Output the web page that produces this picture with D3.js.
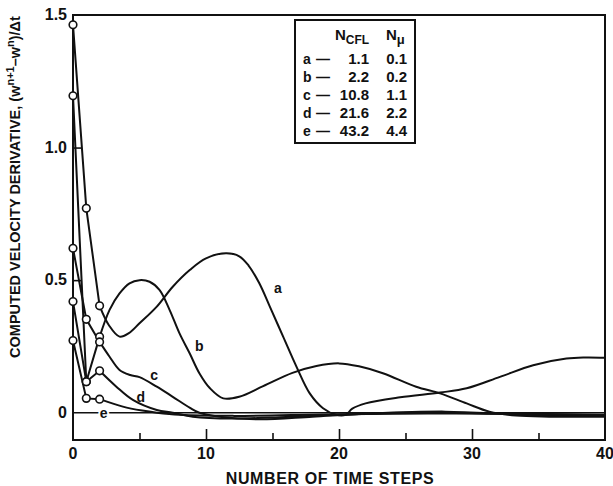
<!DOCTYPE html>
<html>
<head>
<meta charset="utf-8">
<script src="https://cdn.jsdelivr.net/npm/d3@7"></script>
<style>
  body { margin: 0; background: #fff; }
  svg text { font-family: "Liberation Sans", Arial, Helvetica, sans-serif; font-weight: bold; fill: #111; }
</style>
</head>
<body>
<svg id="chart" width="613" height="486"></svg>
<script>
// legend table
const curveNames = ["a", "b", "c", "d", "e"];
const nCflValues = ["1.1", "2.2", "10.8", "21.6", "43.2"];
const nMuValues = ["0.1", "0.2", "1.1", "2.2", "4.4"];

// first three time steps (drawn with circles, straight segments)
const stepTimes = [0, 1, 2];
const stepsA = [1.463, 0.771, 0.403];
const stepsB = [1.195, 0.117, 0.286];
const stepsC = [0.620, 0.352, 0.267];
const stepsD = [0.419, 0.117, 0.158];
const stepsE = [0.272, 0.054, 0.051];

// smooth continuation, [time step, value]
const curveA = [[2, 0.403], [2.7, 0.33], [3.5, 0.287], [4.2, 0.30], [5, 0.337], [6.3, 0.40], [7.5, 0.475],
  [8.8, 0.539], [10, 0.582], [11.5, 0.601], [12.5, 0.59], [13.2, 0.555], [14, 0.489], [14.8, 0.40],
  [15.8, 0.287], [16.8, 0.174], [17.8, 0.073], [18.8, 0.017], [19.8, -0.008], [20.5, -0.008], [21, 0.015],
  [22, 0.035], [24.6, 0.058], [27.6, 0.076], [29.6, 0.092], [32.1, 0.135], [34.6, 0.179], [37.1, 0.204],
  [38.5, 0.208], [40, 0.207]];
const curveB = [[2, 0.286], [2.75, 0.388], [3.5, 0.45], [4.25, 0.488], [5, 0.50], [5.76, 0.494], [6.5, 0.463],
  [7.26, 0.388], [8, 0.30], [8.77, 0.224], [9.5, 0.149], [10.3, 0.092], [11.3, 0.054], [12.5, 0.06],
  [14.3, 0.100], [16.5, 0.15], [18.3, 0.176], [20, 0.186], [21.5, 0.175], [23.3, 0.149], [25.8, 0.098],
  [27.6, 0.073], [29.6, 0.035], [31.3, 0.004], [33.3, -0.011], [35.8, -0.015], [40, -0.015]];
const curveC = [[2, 0.267], [2.75, 0.211], [3.5, 0.161], [4.3, 0.142], [5, 0.134], [6.3, 0.098], [7.5, 0.06],
  [8.8, 0.018], [9.5, 0.0], [11, -0.015], [14, -0.025], [18, -0.015], [22, -0.004], [28, 0.004],
  [34, -0.008], [40, -0.012]];
const curveD = [[2, 0.158], [3.26, 0.098], [4.5, 0.048], [6.3, 0.01], [7.5, 0], [9, -0.015], [12, -0.022],
  [16, -0.016], [20, -0.008], [26, 0.001], [32, -0.004], [40, -0.01]];
const curveE = [[2, 0.051], [3.75, 0.023], [5.2, 0.008], [6.3, 0.0], [8, -0.008], [12, -0.012], [20, -0.006],
  [30, -0.003], [40, -0.008]];

// axis ticks
const xTickLabels = [0, 10, 20, 30, 40];
const xMinorTicks = [5, 15, 25, 35];
const yTickLabels = [0, 0.5, 1.0, 1.5];

const svg = d3.select("#chart");
const margin = { top: 15, right: 8, bottom: 46, left: 73 };
const width = 613, height = 486;

const x = d3.scaleLinear().domain([0, 40]).range([margin.left, width - margin.right]);
const y = d3.scaleLinear().domain([-0.103, 1.5]).range([height - margin.bottom, margin.top]);

// frame
svg.append("rect")
    .attr("x", x(0)).attr("y", y(1.5))
    .attr("width", x(40) - x(0)).attr("height", y(-0.103) - y(1.5))
    .attr("fill", "none").attr("stroke", "#111").attr("stroke-width", 2);

// zero line
svg.append("line")
    .attr("x1", x(0)).attr("x2", x(40)).attr("y1", y(0)).attr("y2", y(0))
    .attr("stroke", "#111").attr("stroke-width", 1.5);

// ticks pointing in
svg.append("g").attr("transform", `translate(0,${y(-0.103)})`)
    .call(d3.axisTop(x).tickValues(xTickLabels.slice(1, -1)).tickSize(11).tickFormat(""))
    .call(g => g.select(".domain").remove())
    .selectAll("line").attr("stroke", "#111").attr("stroke-width", 1.6);
svg.append("g").attr("transform", `translate(0,${y(-0.103)})`)
    .call(d3.axisTop(x).tickValues(xMinorTicks).tickSize(7).tickFormat(""))
    .call(g => g.select(".domain").remove())
    .selectAll("line").attr("stroke", "#111").attr("stroke-width", 1.6);
svg.append("g").attr("transform", `translate(${x(0)},0)`)
    .call(d3.axisRight(y).tickValues([0.5, 1.0]).tickSize(8).tickFormat(""))
    .call(g => g.select(".domain").remove())
    .selectAll("line").attr("stroke", "#111").attr("stroke-width", 1.6);

// tick labels
svg.append("g").selectAll("text").data(xTickLabels).join("text")
    .attr("x", d => x(d)).attr("y", y(-0.103) + 19)
    .attr("text-anchor", "middle").attr("font-size", 16)
    .text(d => d);
svg.append("g").selectAll("text").data(yTickLabels).join("text")
    .attr("x", x(0) - 6).attr("y", d => y(d) + 5)
    .attr("text-anchor", "end").attr("font-size", 16)
    .text(d => d === 0 ? "0" : d.toFixed(1));

// axis titles
svg.append("text")
    .attr("x", 330).attr("y", 484)
    .attr("text-anchor", "middle").attr("font-size", 16).attr("letter-spacing", 0.6)
    .text("NUMBER OF TIME STEPS");

const yTitle = svg.append("text")
    .attr("transform", "translate(20,187) rotate(-90)")
    .attr("text-anchor", "middle").attr("font-size", 14.5);
yTitle.append("tspan").text("COMPUTED VELOCITY DERIVATIVE, (w");
yTitle.append("tspan").attr("dy", -6).attr("font-size", 11).text("n+1");
yTitle.append("tspan").attr("dy", 6).text("\u2013w");
yTitle.append("tspan").attr("dy", -6).attr("font-size", 11).text("n");
yTitle.append("tspan").attr("dy", 6).text(")/\u0394t");

// curves
const stepSets = [stepsA, stepsB, stepsC, stepsD, stepsE];
const smoothSets = [curveA, curveB, curveC, curveD, curveE];

const straight = d3.line().x(d => x(d[0])).y(d => y(d[1]));
const smooth = d3.line().x(d => x(d[0])).y(d => y(d[1])).curve(d3.curveCatmullRom.alpha(0.5));

const curves = svg.append("g").attr("fill", "none").attr("stroke", "#111").attr("stroke-width", 2);
smoothSets.forEach(pts => {
    curves.append("path").attr("d", smooth(pts));
});
stepSets.forEach(vals => {
    curves.append("path").attr("d", straight(vals.map((v, i) => [stepTimes[i], v])));
});

// circles on the first steps
stepSets.forEach(vals => {
    svg.append("g").selectAll("circle").data(vals).join("circle")
        .attr("cx", (d, i) => x(stepTimes[i])).attr("cy", d => y(d))
        .attr("r", 3.8).attr("fill", "#fff").attr("stroke", "#111").attr("stroke-width", 1.6);
});

// curve letters
const labelAt = { a: [15.4, 0.47], b: [9.5, 0.25], c: [6.1, 0.142], d: [5.1, 0.06], e: [2.3, 0] };
curveNames.forEach(n => {
    const t = svg.append("text")
        .attr("x", x(labelAt[n][0])).attr("y", y(labelAt[n][1]) + 5)
        .attr("text-anchor", "middle").attr("font-size", 14)
        .text(n);
    if (n === "e") t.attr("stroke", "#fff").attr("stroke-width", 4).attr("paint-order", "stroke");
});

// legend table
const lg = svg.append("g");
lg.append("rect").attr("x", 295).attr("y", 20).attr("width", 120).attr("height", 123)
    .attr("fill", "#fff").attr("stroke", "#111").attr("stroke-width", 2);
const h1 = lg.append("text").attr("x", 335).attr("y", 40).attr("font-size", 15);
h1.append("tspan").text("N");
h1.append("tspan").attr("dy", 4).attr("font-size", 12).text("CFL");
const h2 = lg.append("text").attr("x", 386).attr("y", 40).attr("font-size", 15);
h2.append("tspan").text("N");
h2.append("tspan").attr("dy", 4).attr("font-size", 13).text("\u03bc");

curveNames.forEach((n, i) => {
    const ry = 64 + i * 18;
    lg.append("text").attr("x", 303).attr("y", ry).attr("font-size", 14).text(n);
    lg.append("text").attr("x", 316).attr("y", ry).attr("font-size", 14).text("\u2014");
    lg.append("text").attr("x", 369).attr("y", ry).attr("text-anchor", "end").attr("font-size", 15).text(nCflValues[i]);
    lg.append("text").attr("x", 407).attr("y", ry).attr("text-anchor", "end").attr("font-size", 15).text(nMuValues[i]);
});
</script>
</body>
</html>
